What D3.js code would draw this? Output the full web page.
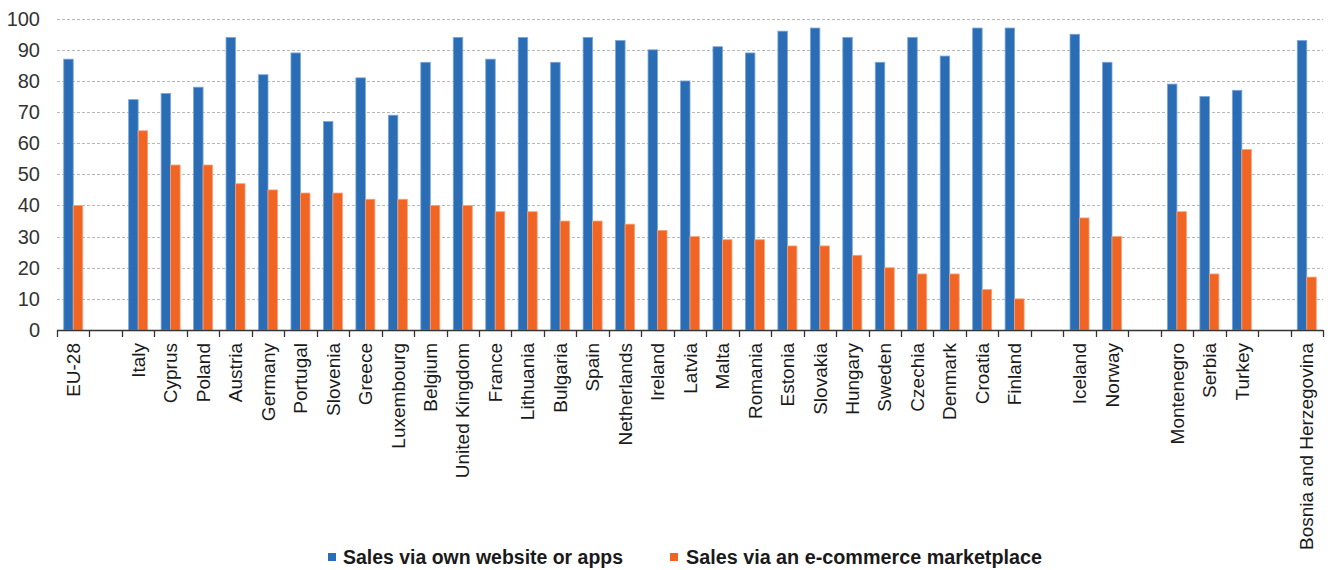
<!DOCTYPE html>
<html>
<head>
<meta charset="utf-8">
<script src="https://cdn.jsdelivr.net/npm/d3@7/dist/d3.min.js"></script>
<style>
  html, body { margin: 0; padding: 0; background: #ffffff; }
  svg { display: block; }
  text { font-family: Arial, "Liberation Sans", sans-serif; }
</style>
</head>
<body>
<svg id="chart" width="1333" height="570"></svg>
<script>
// Country groups; null entries are the empty slots separating the groups
const categories = [
  "EU-28", null,
  "Italy", "Cyprus", "Poland", "Austria", "Germany", "Portugal", "Slovenia", "Greece",
  "Luxembourg", "Belgium", "United Kingdom", "France", "Lithuania", "Bulgaria", "Spain",
  "Netherlands", "Ireland", "Latvia", "Malta", "Romania", "Estonia", "Slovakia", "Hungary",
  "Sweden", "Czechia", "Denmark", "Croatia", "Finland", null,
  "Iceland", "Norway", null,
  "Montenegro", "Serbia", "Turkey", null,
  "Bosnia and Herzegovina"
];

// % of enterprises with web sales
const ownWebsite = [
  87, null,
  74, 76, 78, 94, 82, 89, 67, 81,
  69, 86, 94, 87, 94, 86, 94,
  93, 90, 80, 91, 89, 96, 97, 94,
  86, 94, 88, 97, 97, null,
  95, 86, null,
  79, 75, 77, null,
  93
];
const marketplace = [
  40, null,
  64, 53, 53, 47, 45, 44, 44, 42,
  42, 40, 40, 38, 38, 35, 35,
  34, 32, 30, 29, 29, 27, 27, 24,
  20, 18, 18, 13, 10, null,
  36, 30, null,
  38, 18, 58, null,
  17
];

const seriesNames = ["Sales via own website or apps", "Sales via an e-commerce marketplace"];
const seriesColors = ["#2a6db5", "#f06524"];
const seriesStroke = ["#7aa6da", "#f7a17a"];
const yTicks = [0, 10, 20, 30, 40, 50, 60, 70, 80, 90, 100];

const svg = d3.select("#chart");
const plot = { left: 57, right: 1323, top: 18.7, bottom: 330 };

const slots = d3.range(categories.length);
const x = d3.scaleBand().domain(slots).range([plot.left, plot.right]).padding(0);
const groupW = 19;
const x1 = d3.scaleBand().domain([0, 1]).range([0, groupW]).padding(0);
const y = d3.scaleLinear().domain([0, 100]).range([plot.bottom, plot.top]);

// dashed horizontal gridlines
svg.append("g")
  .selectAll("line")
  .data(yTicks.filter(d => d > 0))
  .join("line")
  .attr("x1", plot.left).attr("x2", plot.right)
  .attr("y1", d => Math.round(y(d)) + 0.5).attr("y2", d => Math.round(y(d)) + 0.5)
  .attr("stroke", "#b8b8b8")
  .attr("stroke-width", 1)
  .attr("stroke-dasharray", "3,2");

// y axis labels (no axis line)
const yAxis = d3.axisLeft(y).tickValues(yTicks).tickSize(0).tickPadding(0);
const yg = svg.append("g").attr("transform", `translate(40,0)`).call(yAxis);
yg.select(".domain").remove();
yg.selectAll("text")
  .attr("font-size", 20)
  .attr("fill", "#333333")
  .attr("font-family", "Arial, 'Liberation Sans', sans-serif");

// bars
const series = [ownWebsite, marketplace];
series.forEach((vals, si) => {
  svg.append("g")
    .selectAll("rect")
    .data(slots.filter(i => vals[i] != null))
    .join("rect")
    .attr("x", i => x(i) + (x.bandwidth() - groupW) / 2 + x1(si))
    .attr("y", i => y(vals[i]))
    .attr("width", x1.bandwidth())
    .attr("height", i => y(0) - y(vals[i]))
    .attr("fill", seriesColors[si])
    .attr("stroke", seriesStroke[si])
    .attr("stroke-width", 0.8);
});

// x axis line and boundary ticks
const axisG = svg.append("g");
axisG.append("line")
  .attr("x1", plot.left).attr("x2", plot.right)
  .attr("y1", plot.bottom + 0.5).attr("y2", plot.bottom + 0.5)
  .attr("stroke", "#333333").attr("stroke-width", 1.3);
const bounds = slots.map(i => x(i)).concat([x(slots[slots.length - 1]) + x.bandwidth()]);
axisG.selectAll("line.tick")
  .data(bounds)
  .join("line")
  .attr("class", "tick")
  .attr("x1", d => Math.round(d) + 0.5).attr("x2", d => Math.round(d) + 0.5)
  .attr("y1", plot.bottom).attr("y2", plot.bottom + 7)
  .attr("stroke", "#333333").attr("stroke-width", 1.3);

// rotated category labels
svg.append("g")
  .selectAll("text")
  .data(slots.filter(i => categories[i] != null))
  .join("text")
  .attr("transform", i => `translate(${x(i) + x.bandwidth() / 2},343) rotate(-90)`)
  .attr("text-anchor", "end")
  .attr("dy", "0.35em")
  .attr("font-size", 19)
  .attr("fill", "#1a1a1a")
  .text(i => categories[i]);

// legend
const legendItems = [
  { sq: 328, tx: 343, len: 280 },
  { sq: 670, tx: 686, len: 356 }
];
const lg = svg.append("g");
legendItems.forEach((it, si) => {
  lg.append("rect")
    .attr("x", it.sq).attr("y", 553)
    .attr("width", 8).attr("height", 8)
    .attr("fill", seriesColors[si]);
  lg.append("text")
    .attr("x", it.tx).attr("y", 564)
    .attr("font-size", 20)
    .attr("font-weight", "bold")
    .attr("font-family", "'Liberation Sans Narrow', 'Arial Narrow', Arial, sans-serif")
    .attr("fill", "#1a1a1a")
    .attr("textLength", it.len)
    .attr("lengthAdjust", "spacingAndGlyphs")
    .text(seriesNames[si]);
});
</script>
</body>
</html>
